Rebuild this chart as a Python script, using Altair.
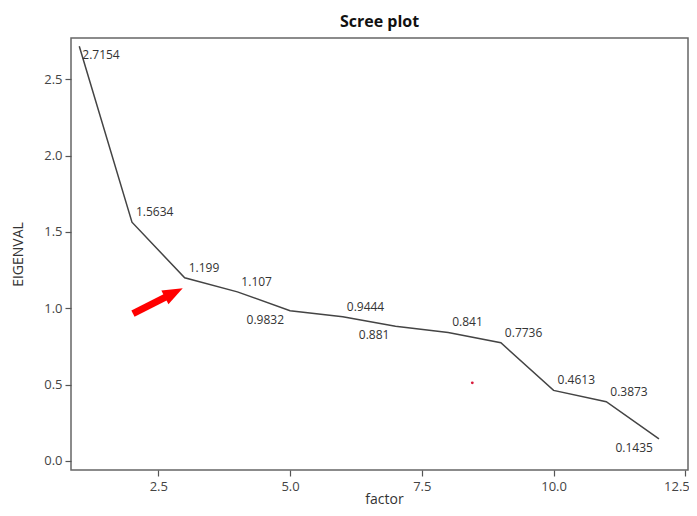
import altair as alt
import pandas as pd

# Data
factors = [1, 2, 3, 4, 5, 6, 7, 8, 9, 10, 11, 12]
eigenvalues = [2.7154, 1.5634, 1.199, 1.107, 0.9832, 0.9444, 0.881, 0.841,
               0.7736, 0.4613, 0.3873, 0.1435]
label_text = ["2.7154", "1.5634", "1.199", "1.107", "0.9832", "0.9444", "0.881",
              "0.841", "0.7736", "0.4613", "0.3873", "0.1435"]
# label placement group: ur = upper right, lr = lower right, ll = lower left
label_side = ["lr", "ur", "ur", "ur", "ll", "ur", "ll", "ur", "ur", "ur", "ur", "ll"]

x_ticks = [2.5, 5.0, 7.5, 10.0, 12.5]
y_ticks = [0.0, 0.5, 1.0, 1.5, 2.0, 2.5]

# annotation: red arrow (shaft start/end, head centre) and stray red dot
arrow_x = [2.019, 2.665]
arrow_y = [0.9646, 1.0767]
arrow_head = [2.794, 1.1003]
dot = [8.458, 0.511]

df = pd.DataFrame({"factor": factors, "EIGENVAL": eigenvalues,
                   "label": label_text, "side": label_side})

FONT = "Open Sans"
xs = alt.Scale(domain=[0.843, 12.551], nice=False, zero=False)
ys = alt.Scale(domain=[-0.06, 2.77], nice=False, zero=False)

x_axis = alt.Axis(values=x_ticks, format=".1f", grid=False, domain=False,
                  tickSize=6, tickColor="#555", tickWidth=1.2, labelPadding=4,
                  labelFontSize=13, labelColor="#444", labelFont=FONT,
                  labelAlign=alt.expr("datum.value >= 12.5 ? 'right' : 'center'"),
                  labelOffset=alt.expr("datum.value >= 12.5 ? 4 : 0"),
                  title="factor", titleFont=FONT, titleFontSize=14,
                  titleFontWeight="normal", titleColor="#333",
                  titleBaseline="alphabetic", titleY=33, titleX=313)
y_axis = alt.Axis(values=y_ticks, format=".1f", grid=False, domain=False,
                  tickSize=6, tickColor="#555", tickWidth=1.2, labelPadding=3,
                  labelFontSize=13, labelColor="#444", labelFont=FONT,
                  title="EIGENVAL", titleFont=FONT, titleFontSize=14,
                  titleFontWeight="normal", titleColor="#333", titleX=-49,
                  titleBaseline="alphabetic")

base = alt.Chart(df)

line = base.mark_line(color="#444", strokeWidth=1.5).encode(
    x=alt.X("factor:Q", scale=xs, axis=x_axis),
    y=alt.Y("EIGENVAL:Q", scale=ys, axis=y_axis),
)

def labels(side, align, dx, dy):
    return base.transform_filter(alt.datum.side == side).mark_text(
        align=align, baseline="middle", dx=dx, dy=dy, font=FONT,
        fontSize=12, color="#333"
    ).encode(x=alt.X("factor:Q", scale=xs), y=alt.Y("EIGENVAL:Q", scale=ys),
             text="label:N")

lab_ur = labels("ur", "left", 4, -10)
lab_lr = labels("lr", "left", 3, 9)
lab_ll = labels("ll", "right", -6, 9)

arrow_df = pd.DataFrame({"x": [arrow_x[0]], "y": [arrow_y[0]],
                         "x2": [arrow_x[1]], "y2": [arrow_y[1]]})
shaft = alt.Chart(arrow_df).mark_rule(color="#f00", strokeWidth=7,
                                      strokeCap="butt").encode(
    x=alt.X("x:Q", scale=xs), y=alt.Y("y:Q", scale=ys), x2="x2:Q", y2="y2:Q")

head_df = pd.DataFrame({"x": [arrow_head[0]], "y": [arrow_head[1]]})
head = alt.Chart(head_df).mark_point(
    shape="M0,-1 L0.78,1 L-0.78,1 Z", size=400, angle=63, filled=True,
    color="#f00", opacity=1, strokeWidth=0).encode(
    x=alt.X("x:Q", scale=xs), y=alt.Y("y:Q", scale=ys))

dot_df = pd.DataFrame({"x": [dot[0]], "y": [dot[1]]})
red_dot = alt.Chart(dot_df).mark_point(filled=True, size=8, color="#d81b3c",
                                        opacity=1).encode(
    x=alt.X("x:Q", scale=xs), y=alt.Y("y:Q", scale=ys))

chart = alt.layer(line, lab_ur, lab_lr, lab_ll, shaft, head, red_dot).properties(
    width=617, height=432,
    title=alt.TitleParams("Scree plot", font=FONT, fontSize=16, fontWeight="bold",
                          color="#111", anchor="middle", offset=8),
    autosize=alt.AutoSizeParams(type="none"),
    padding={"left": 63, "top": 30, "right": 1, "bottom": 38},
).configure(background="white").configure_view(stroke="#666", strokeWidth=1.5)

chart.save("out.html", embed_options={"renderer": "svg", "actions": False})
